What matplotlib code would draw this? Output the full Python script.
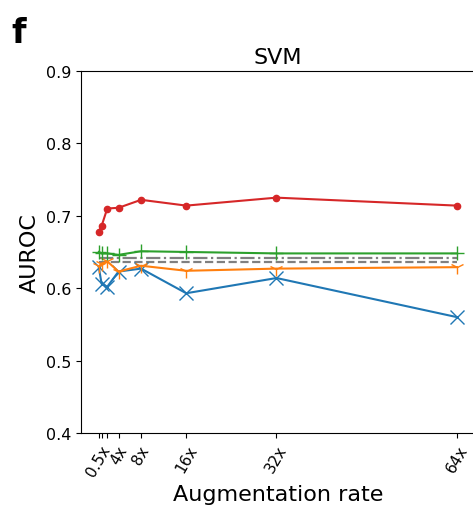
import numpy as np
import matplotlib
matplotlib.use("Agg")
import matplotlib.pyplot as plt

# =========================================================
# DATA
# =========================================================

rates = [0.5, 1, 2, 4, 8, 16, 32, 64]
rate_labels = ["0.5x", "", "", "4x", "8x", "16x", "32x", "64x"]

auroc_red = [0.678, 0.686, 0.710, 0.711, 0.722, 0.714, 0.725, 0.714]
auroc_green = [0.650, 0.648, 0.648, 0.646, 0.651, 0.650, 0.648, 0.648]
auroc_orange = [0.630, 0.634, 0.637, 0.623, 0.631, 0.624, 0.627, 0.629]
auroc_blue = [0.629, 0.606, 0.602, 0.623, 0.627, 0.593, 0.614, 0.560]

baseline_dashdot = 0.642
baseline_dashed = 0.636

# =========================================================
# PLOT
# =========================================================

fig = plt.figure(figsize=(4.73, 5.10), dpi=100)
ax = fig.add_axes([0.171, 0.149, 0.833, 0.710])

ax.plot(rates, [baseline_dashdot] * len(rates), "-.", color="gray", linewidth=1.6)
ax.plot(rates, [baseline_dashed] * len(rates), "--", color="gray", linewidth=1.6)

ax.plot(rates, auroc_blue, "-x", color="tab:blue", markersize=10, linewidth=1.5)
ax.plot(rates, auroc_orange, "-1", color="tab:orange", markersize=10, linewidth=1.5)
ax.plot(rates, auroc_green, "-+", color="tab:green", markersize=10, linewidth=1.5)
ax.plot(rates, auroc_red, "-o", color="tab:red", markersize=4.5, linewidth=1.5)

# right edge of the panel is cropped in the original figure
ax.spines["right"].set_visible(False)

ax.set_ylim(0.4, 0.9)
ax.set_yticks([0.4, 0.5, 0.6, 0.7, 0.8, 0.9])
ax.set_xticks(rates)
ax.set_xticklabels(rate_labels, rotation=60, fontsize=11)
ax.tick_params(axis="y", labelsize=11.5)

ax.set_title("SVM", fontsize=16)
ax.set_xlabel("Augmentation rate", fontsize=16)
ax.set_ylabel("AUROC", fontsize=16)

fig.text(0.025, 0.915, "f", fontsize=24, fontweight="bold")

fig.savefig("out.png", dpi=100)
